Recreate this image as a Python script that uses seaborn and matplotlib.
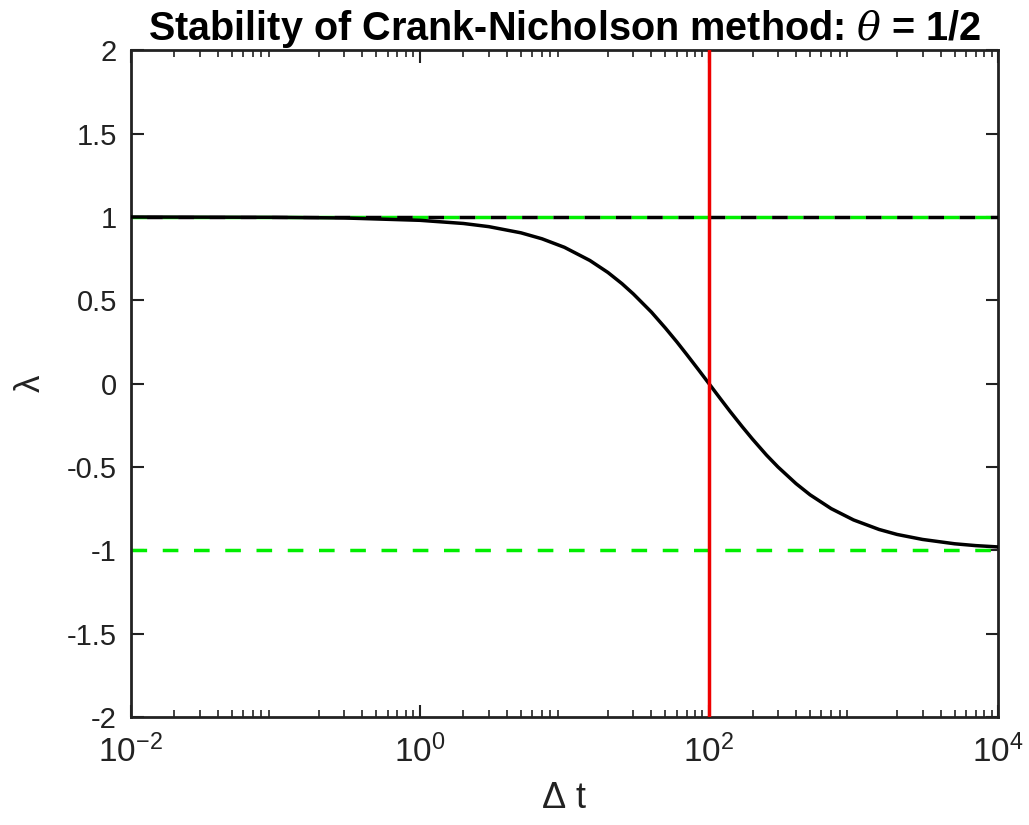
import numpy as np
import pandas as pd
import matplotlib
matplotlib.use('Agg')
import matplotlib.pyplot as plt
import seaborn as sns

# values
dt = [0.01, 0.03, 0.1, 0.3, 1, 2, 3, 5, 7, 10, 15, 20, 25, 30, 40, 50, 60, 70, 85,
      100, 120, 140, 170, 200, 250, 300, 400, 500, 700, 1000, 1500, 2000, 3000,
      5000, 7000, 10000]
lam = [1.000, 0.999, 0.998, 0.994, 0.980, 0.961, 0.942, 0.905, 0.869, 0.818, 0.739,
       0.667, 0.600, 0.538, 0.429, 0.333, 0.250, 0.176, 0.081,
       0.0, -0.091, -0.167, -0.259, -0.333, -0.429, -0.5, -0.6, -0.667, -0.75,
       -0.818, -0.875, -0.905, -0.935, -0.961, -0.972, -0.980]
bounds = [1, -1]
exact = 1
dt_crit = 100
xlim = (1e-2, 1e4)
ylim = (-2, 2)

df = pd.DataFrame({'dt': dt, 'lam': lam})

sns.set_style('ticks')
plt.rcParams['font.family'] = ['Liberation Sans', 'DejaVu Sans']
plt.rcParams['text.color'] = 'black'
plt.rcParams['axes.labelcolor'] = '#222222'
plt.rcParams['mathtext.fontset'] = 'custom'
plt.rcParams['mathtext.rm'] = 'Liberation Sans'
plt.rcParams['mathtext.it'] = 'DejaVu Serif:italic'

fig = plt.figure(figsize=(10.29, 8.25), dpi=100)
ax = fig.add_axes([0.127, 0.131, 0.843, 0.808])

for b in bounds:
    ax.axhline(b, color='#00ee00', ls=(0, (4.5, 4.5)), lw=2.5, zorder=2)
ax.axhline(exact, color='black', ls=(4.5, (4.5, 4.5)), lw=2.5, zorder=3)
sns.lineplot(data=df, x='dt', y='lam', color='black', lw=2.5, ax=ax, zorder=4)
ax.axvline(dt_crit, color='#ee0000', lw=2.5, zorder=5)

ax.set_xscale('log')
ax.set_xlim(*xlim)
ax.set_ylim(*ylim)
ax.set_yticks(np.arange(-2, 2.01, 0.5))
ax.set_yticklabels(['-2', '-1.5', '-1', '-0.5', '0', '0.5', '1', '1.5', '2'])
ax.set_xticks([1e-2, 1e0, 1e2, 1e4])
ax.set_xticklabels([r'$\mathrm{10^{-2}}$', r'$\mathrm{10^{0}}$',
                    r'$\mathrm{10^{2}}$', r'$\mathrm{10^{4}}$'], fontsize=24)

ax.tick_params(which='both', direction='in', top=True, right=True,
               colors='#222222', pad=10)
ax.tick_params(axis='y', labelsize=21)
ax.tick_params(axis='x', pad=13)
ax.tick_params(which='major', length=9, width=1.5)
ax.tick_params(which='minor', length=5, width=1.2)
for s in ax.spines.values():
    s.set_linewidth(2)
    s.set_color('#222222')

ax.set_xlabel(r'$\mathrm{\Delta}$ t', fontsize=26, labelpad=8)
ax.set_ylabel(r'$\mathrm{\lambda}$', fontsize=25, labelpad=14)
ax.set_title(r'Stability of Crank-Nicholson method: $\theta$ = 1/2',
             fontsize=28.5, fontweight='bold', color='black', pad=5)

fig.savefig('out.png', dpi=100, facecolor='white')
